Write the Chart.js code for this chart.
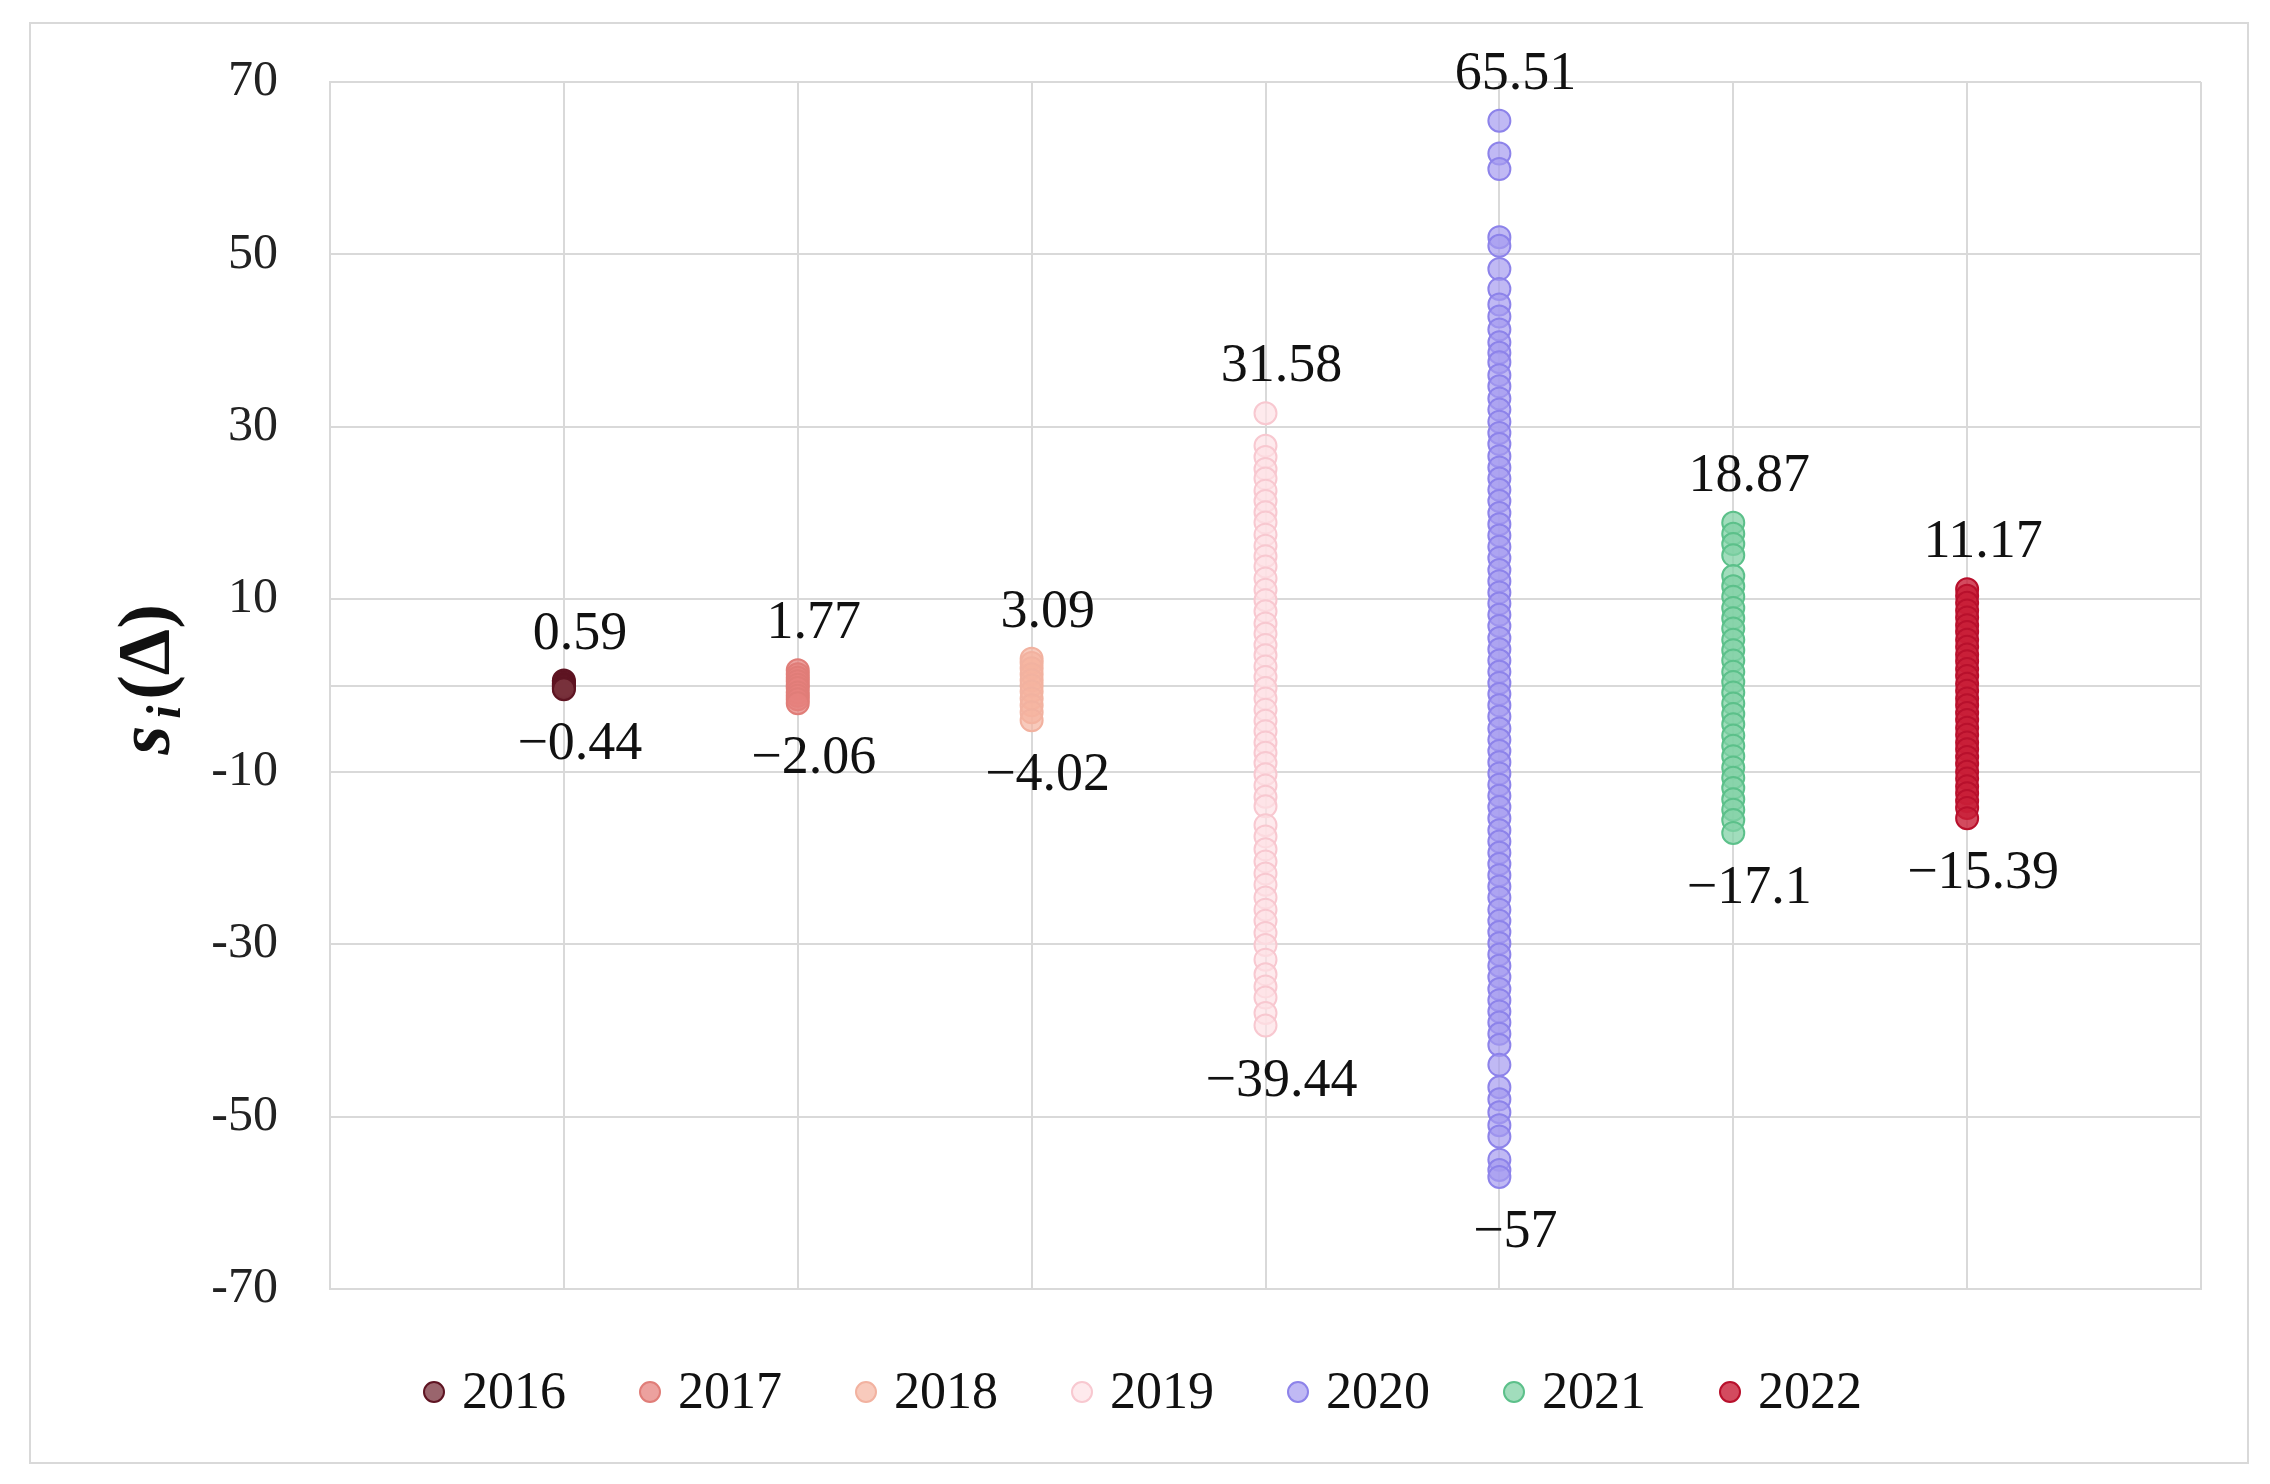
<!DOCTYPE html>
<html lang="en">
<head>
<meta charset="UTF-8">
<title>si chart</title>
<script src="https://cdn.jsdelivr.net/npm/chart.js@4.4.0/dist/chart.umd.min.js"></script>
<style>
  body { margin: 0; background: #fff; }
  #wrap { position: relative; width: 2270px; height: 1484px; }
  #frame { position: absolute; left: 29px; top: 22px; width: 2216px; height: 1438px; border: 2px solid #d9d9d9; }
  canvas { position: absolute; left: 0; top: 0; }
</style>
</head>
<body>
<div id="wrap">
  <div id="frame"></div>
  <canvas id="chart" width="2270" height="1484"></canvas>
</div>
<script>
// years and their x position on the axis
var years = ["2016", "2017", "2018", "2019", "2020", "2021", "2022"];
var yTicks = [-70, -50, -30, -10, 10, 30, 50, 70];

var s2016 = [0.59, 0.4, 0.2, 0.05, -0.1, -0.3, -0.44];
var s2017 = [1.77, 1.3, 0.9, 0.5, 0.1, -0.3, -0.8, -1.2, -1.6, -2.06];
var s2018 = [3.09, 2.6, 2.0, 1.3, 0.6, 0.0, -0.7, -1.5, -2.3, -3.1, -4.02];
var s2019 = [31.58, 27.8, 26.5, 25.1, 24.0, 22.6, 21.4, 20.1, 18.9, 17.5, 16.2, 15.0, 13.8, 12.4, 11.1, 9.9,
  8.6, 7.2, 6.0, 4.7, 3.5, 2.2, 1.0, -0.3, -1.5, -2.8, -4.1, -5.3, -6.6, -7.8, -9.0, -10.3, -11.6, -12.9,
  -14.0, -16.2, -17.5, -19.0, -20.4, -21.8, -23.1, -24.6, -26.0, -27.3, -28.7, -30.1, -31.8, -33.5,
  -34.9, -36.2, -38.0, -39.44];
var s2020 = [65.51, 61.7, 59.9, 52.0, 51.0, 48.3, 46.0, 44.2, 42.8, 41.3, 39.8, 38.6, 37.5, 36.0, 34.7, 33.3,
  32.0, 30.6, 29.3, 28.0, 26.6, 25.3, 24.0, 22.7, 21.4, 20.0, 18.7, 17.4, 16.1, 14.8, 13.4, 12.1, 10.8,
  9.5, 8.2, 6.9, 5.5, 4.2, 2.9, 1.6, 0.3, -1.0, -2.3, -3.6, -5.0, -6.3, -7.6, -8.9, -10.2, -11.5, -12.8,
  -14.1, -15.4, -16.8, -18.1, -19.4, -20.7, -22.0, -23.3, -24.6, -26.0, -27.3, -28.6, -29.9, -31.2,
  -32.5, -33.8, -35.2, -36.5, -37.8, -39.1, -40.4, -41.7, -44.0, -46.6, -48.0, -49.5, -51.0, -52.3,
  -55.0, -56.2, -57];
var s2021 = [18.87, 17.6, 16.4, 15.1, 12.7, 11.5, 10.3, 9.0, 7.8, 6.6, 5.3, 4.1, 2.9, 1.6, 0.4, -0.8, -2.1,
  -3.3, -4.5, -5.8, -7.0, -8.2, -9.5, -10.7, -11.9, -13.2, -14.4, -15.6, -17.1];
var s2022 = [11.17, 10.4, 9.6, 8.7, 7.9, 7.0, 6.2, 5.3, 4.5, 3.6, 2.8, 1.9, 1.1, 0.2, -0.6, -1.5, -2.3, -3.2,
  -4.0, -4.9, -5.7, -6.6, -7.4, -8.3, -9.1, -10.0, -10.8, -11.7, -12.5, -13.4, -14.2, -15.39];

var seriesValues = [s2016, s2017, s2018, s2019, s2020, s2021, s2022];
var fills = ["rgba(120,50,60,0.75)", "rgba(230,130,125,0.75)", "rgba(245,180,160,0.7)", "rgba(253,225,230,0.7)",
  "rgba(165,155,240,0.7)", "rgba(130,210,165,0.75)", "rgba(200,30,55,0.8)"];
var borders = ["#5e1422", "#e07d78", "#f2b2a0", "#f8c8d0", "#8d83ea", "#5cc08a", "#b8102c"];
var maxLabels = ["0.59", "1.77", "3.09", "31.58", "65.51", "18.87", "11.17"];
var minLabels = ["\u22120.44", "\u22122.06", "\u22124.02", "\u221239.44", "\u221257", "\u221217.1", "\u221215.39"];

var serif = "'Liberation Serif', 'DejaVu Serif', serif";

var datasets = years.map(function (y, i) {
  return {
    label: y,
    data: seriesValues[i].map(function (v) { return { x: i + 1, y: v }; }),
    backgroundColor: fills[i],
    borderColor: borders[i],
    borderWidth: 2,
    pointRadius: 11
  };
});

var extras = {
  id: "extras",
  afterDraw: function (chart) {
    var ctx = chart.ctx, xs = chart.scales.x, ys = chart.scales.y;
    ctx.save();
    ctx.fillStyle = "#111";
    ctx.font = "54px " + serif;
    ctx.textAlign = "center";
    ctx.textBaseline = "middle";
    seriesValues.forEach(function (vals, i) {
      var px = xs.getPixelForValue(i + 1) + 16;
      var hi = Math.max.apply(null, vals), lo = Math.min.apply(null, vals);
      ctx.fillText(maxLabels[i], px, ys.getPixelForValue(hi) - 46);
      ctx.fillText(minLabels[i], px, ys.getPixelForValue(lo) + 56);
    });
    // legend
    ctx.font = "52px " + serif;
    ctx.textAlign = "left";
    var x0 = 434, ly = 1392;
    years.forEach(function (y, i) {
      var lx = x0 + i * 216;
      ctx.beginPath();
      ctx.arc(lx, ly, 10, 0, Math.PI * 2);
      ctx.fillStyle = fills[i];
      ctx.fill();
      ctx.lineWidth = 2;
      ctx.strokeStyle = borders[i];
      ctx.stroke();
      ctx.fillStyle = "#111";
      ctx.fillText(y, lx + 28, ly + 2);
    });
    ctx.restore();
  }
};

new Chart(document.getElementById("chart"), {
  type: "scatter",
  data: { datasets: datasets },
  plugins: [extras],
  options: {
    responsive: false,
    animation: false,
    layout: { padding: { top: 75, right: 69, left: 0, bottom: 0 } },
    plugins: { legend: { display: false }, tooltip: { enabled: false } },
    scales: {
      x: {
        type: "linear", min: 0, max: 8,
        ticks: { display: false, stepSize: 1 },
        grid: { color: "#d9d9d9", lineWidth: 2, drawTicks: false },
        border: { color: "#d9d9d9", width: 2 },
        afterFit: function (s) { s.height = 195; }
      },
      y: {
        min: -70, max: 70,
        afterBuildTicks: function (s) {
          s.ticks = yTicks.concat([0]).sort(function (a, b) { return a - b; }).map(function (v) { return { value: v }; });
        },
        ticks: {
          padding: 52, color: "#222",
          font: { family: serif, size: 50 },
          callback: function (v) { return v === 0 ? "" : String(v); }
        },
        grid: { color: "#d9d9d9", lineWidth: 2, drawTicks: false },
        border: { color: "#d9d9d9", width: 2 },
        title: { display: false },
        afterFit: function (s) { s.width = 330; }
      }
    }
  }
});

// rotated axis title drawn after chart
(function () {
  var c = document.getElementById("chart").getContext("2d");
  c.save();
  c.translate(150, 682);
  c.rotate(-Math.PI / 2);
  c.fillStyle = "#111";
  c.textAlign = "center";
  c.textBaseline = "middle";
  c.font = "bold italic 74px " + serif;
  c.fillText("s", -58, 0);
  c.font = "bold italic 48px " + serif;
  c.fillText("i", -30, 18);
  c.font = "bold 74px " + serif;
  c.fillText("(\u0394)", 30, 0);
  c.restore();
})();
</script>
</body>
</html>
